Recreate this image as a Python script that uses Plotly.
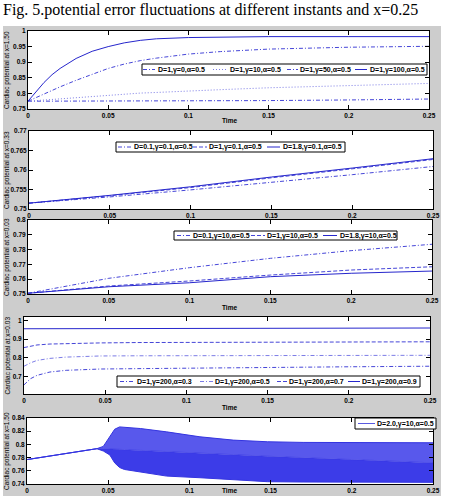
import plotly.graph_objects as go

W, H = 450, 496

# ---------------- data ----------------
t1 = [0, 0.005, 0.01, 0.015, 0.02, 0.03, 0.04, 0.05, 0.06, 0.07, 0.08, 0.10, 0.12, 0.15, 0.20, 0.25]
p1_g0 = [0.775, 0.775, 0.775, 0.775, 0.775, 0.775, 0.775, 0.775, 0.7752, 0.7755, 0.7757, 0.776, 0.7765, 0.777, 0.779, 0.782]
p1_g10 = [0.775, 0.777, 0.779, 0.781, 0.783, 0.787, 0.791, 0.795, 0.798, 0.801, 0.803, 0.808, 0.812, 0.818, 0.826, 0.832]
p1_g50 = [0.775, 0.787, 0.799, 0.810, 0.821, 0.842, 0.862, 0.880, 0.894, 0.905, 0.913, 0.926, 0.934, 0.942, 0.948, 0.951]
p1_g100 = [0.775, 0.805, 0.835, 0.860, 0.880, 0.912, 0.935, 0.950, 0.962, 0.970, 0.975, 0.979, 0.981, 0.982, 0.982, 0.982]
names1 = ["D=1,γ=0,α=0.5", "D=1,γ=10,α=0.5", "D=1,γ=50,α=0.5", "D=1,γ=100,α=0.5"]

t2 = [0, 0.05, 0.10, 0.15, 0.20, 0.25]
p2_d01 = [0.7515, 0.7531, 0.7549, 0.7568, 0.7588, 0.7609]
p2_d1 = [0.7515, 0.7534, 0.7555, 0.7580, 0.7603, 0.7627]
p2_d18 = [0.7515, 0.7535, 0.7557, 0.7582, 0.7605, 0.7629]
names2 = ["D=0.1,γ=0.1,α=0.5", "D=1,γ=0.1,α=0.5", "D=1.8,γ=0.1,α=0.5"]

t3 = [0, 0.05, 0.10, 0.15, 0.20, 0.25]
p3_d01 = [0.7505, 0.7606, 0.7678, 0.7741, 0.7793, 0.7836]
p3_d1 = [0.7505, 0.7554, 0.7588, 0.7628, 0.7662, 0.7684]
p3_d18 = [0.7505, 0.7549, 0.7576, 0.7617, 0.7640, 0.7655]
names3 = ["D=0.1,γ=10,α=0.5", "D=1,γ=10,α=0.5", "D=1.8,γ=10,α=0.5"]

t4 = [0, 0.004, 0.008, 0.016, 0.026, 0.047, 0.07, 0.10, 0.15, 0.20, 0.25]
p4_a03 = [0.654, 0.687, 0.705, 0.723, 0.732, 0.739, 0.741, 0.744, 0.748, 0.751, 0.754]
p4_a05 = [0.754, 0.772, 0.785, 0.796, 0.803, 0.809, 0.810, 0.811, 0.812, 0.8123, 0.8125]
p4_a07 = [0.854, 0.863, 0.868, 0.873, 0.876, 0.879, 0.881, 0.882, 0.884, 0.885, 0.885]
p4_a09 = [0.955, 0.955, 0.955, 0.955, 0.955, 0.955, 0.958, 0.959, 0.959, 0.959, 0.959]
names4 = ["D=1,γ=200,α=0.3", "D=1,γ=200,α=0.5", "D=1,γ=200,α=0.7", "D=1,γ=200,α=0.9"]

t5 = [0, 0.043, 0.047, 0.051, 0.054, 0.057, 0.060, 0.070, 0.086, 0.1065, 0.127, 0.148, 0.170, 0.200, 0.250]
p5_upper = [0.777, 0.7935, 0.797, 0.812, 0.823, 0.8265, 0.826, 0.824, 0.819, 0.8115, 0.8065, 0.804, 0.803, 0.8025, 0.8025]
p5_mid = [0.777, 0.7935, 0.7935, 0.7935, 0.793, 0.7925, 0.792, 0.791, 0.789, 0.7865, 0.7845, 0.782, 0.7795, 0.777, 0.772]
p5_lower = [0.777, 0.7935, 0.790, 0.784, 0.772, 0.765, 0.762, 0.758, 0.752, 0.7495, 0.746, 0.7435, 0.743, 0.7425, 0.7425]
names5 = ["D=2.0,γ=10,α=0.5"]

ylabels = ["Cardiac potential at x=1.50", "Cardiac potential at x=0.33", "Cardiac potential at x=0.03",
           "Cardiac potential at x=0.03", "Cardiac potential at x=1.50"]
xtitle = "Time"
title_text = "Fig. 5.potential error fluctuations at different instants and x=0.25"

# ---------------- styling ----------------
BLUE = "#2626cc"
BLUE2 = "#4646d8"
LIGHT = "#7c7ce6"
DASHDOT = "4px,2px,1px,2px"
DASH = "4px,2px"
DOT = "1px,2px"


def fx(p):
    return p / W


def fy(p):
    return 1 - p / H


fig = go.Figure()

# panel geometry in pixels: (x0, x1, ytop, ybottom)
panels = [(28, 429, 31, 109), (29, 433, 131, 209), (28, 432, 220, 294), (24, 430, 317, 394), (27, 433, 418, 484)]
yranges = [[0.75, 1.0], [0.75, 0.77], [0.75, 0.80], [0.605, 1.018], [0.74, 0.84]]
ydticks = [0.05, 0.005, 0.01, 0.1, 0.02]

# background grey
fig.add_shape(type="rect", xref="paper", yref="paper", x0=fx(3), x1=fx(441), y0=fy(496), y1=fy(26),
              fillcolor="#cdcdcd", line=dict(width=0), layer="below")
for (x0, x1, yt, yb) in panels:
    fig.add_shape(type="rect", xref="paper", yref="paper", x0=fx(x0), x1=fx(x1), y0=fy(yb), y1=fy(yt),
                  fillcolor="white", line=dict(width=0), layer="below")

axfont = dict(size=6.5, family="Liberation Sans", color="black", weight="bold")
for i, (x0, x1, yt, yb) in enumerate(panels):
    sfx = "" if i == 0 else str(i + 1)
    common = dict(showline=True, linecolor="black", linewidth=1, mirror="ticks", ticks="inside",
                  ticklen=4, tickcolor="black", showgrid=False, zeroline=False, tickfont=axfont,
                  automargin=False)
    fig.layout["xaxis" + sfx] = dict(domain=[fx(x0), fx(x1)], range=[0, 0.25], tick0=0, dtick=0.05,
                                     anchor="y" + sfx, **common)
    ykw = dict(domain=[fy(yb), fy(yt)], range=yranges[i], anchor="x" + sfx, **common)
    if i == 3:
        ykw["tickvals"] = [0.7, 0.8, 0.9, 1.0]
        ykw["ticktext"] = ["0.7", "0.8", "0.9", "1"]
    else:
        ykw["dtick"] = ydticks[i]
        ykw["tick0"] = 0
    fig.layout["yaxis" + sfx] = ykw


def line(x, y, name, color, dash, ax):
    fig.add_trace(go.Scatter(x=x, y=y, name=name, mode="lines", xaxis="x" + ax, yaxis="y" + ax,
                             line=dict(color=color, width=1, dash=dash), showlegend=False))


# panel 1
styles1 = [(BLUE2, DASHDOT), (LIGHT, DOT), (BLUE2, DASHDOT), (BLUE, "solid")]
for ys, nm, st in zip([p1_g0, p1_g10, p1_g50, p1_g100], names1, styles1):
    line(t1, ys, nm, st[0], st[1], "")
# panel 2
styles2 = [(BLUE2, DASHDOT), (BLUE2, DASH), (BLUE, "solid")]
for ys, nm, st in zip([p2_d01, p2_d1, p2_d18], names2, styles2):
    line(t2, ys, nm, st[0], st[1], "2")
# panel 3
styles3 = [(BLUE2, DASHDOT), (BLUE2, DASH), (BLUE, "solid")]
for ys, nm, st in zip([p3_d01, p3_d1, p3_d18], names3, styles3):
    line(t3, ys, nm, st[0], st[1], "3")
# panel 4
styles4 = [(BLUE2, DASHDOT), (LIGHT, DASHDOT), (BLUE2, DASH), (BLUE, "solid")]
for ys, nm, st in zip([p4_a03, p4_a05, p4_a07, p4_a09], names4, styles4):
    line(t4, ys, nm, st[0], st[1], "4")
# panel 5: oscillation band
fig.add_trace(go.Scatter(x=t5, y=p5_lower, mode="lines", xaxis="x5", yaxis="y5", showlegend=False,
                         line=dict(color="#3434e0", width=1), name=names5[0]))
fig.add_trace(go.Scatter(x=t5, y=p5_mid, mode="lines", xaxis="x5", yaxis="y5", showlegend=False,
                         line=dict(color="#3434e0", width=0.6), fill="tonexty", fillcolor="#3c3ce8",
                         name=names5[0]))
fig.add_trace(go.Scatter(x=t5, y=p5_upper, mode="lines", xaxis="x5", yaxis="y5", showlegend=False,
                         line=dict(color="#3434e0", width=1), fill="tonexty", fillcolor="#5858ec",
                         name=names5[0]))
styles5 = [("#5a5ae0", "solid")]

# ---------------- manual legends ----------------
legfont = dict(size=7, family="Liberation Sans", color="black", weight="bold")


def add_legend(box, entries, names, styles):
    x0, x1, y0, y1 = box
    fig.add_shape(type="rect", xref="paper", yref="paper", x0=fx(x0), x1=fx(x1), y0=fy(y1), y1=fy(y0),
                  fillcolor="white", line=dict(color="black", width=1), layer="above")
    yc = (y0 + y1) / 2
    for (lx0, lx1, tx), nm, (col, dsh) in zip(entries, names, styles):
        fig.add_shape(type="line", xref="paper", yref="paper", x0=fx(lx0), x1=fx(lx1), y0=fy(yc), y1=fy(yc),
                      line=dict(color=col, width=1, dash=dsh), layer="above")
        fig.add_annotation(x=fx(tx), y=fy(yc), xref="paper", yref="paper", text=nm, showarrow=False,
                           xanchor="left", yanchor="middle", font=legfont, borderpad=0)


add_legend((142, 427, 64, 75), [(143, 155, 157), (213, 227, 229), (287, 298, 299), (355, 367, 369)], names1, styles1)
add_legend((116, 345, 142, 152), [(118, 132, 133), (193, 207, 208), (267, 280, 282)], names2, styles2)
add_legend((174, 397, 231, 240), [(177, 190, 192), (251, 265, 266), (323, 337, 339)], names3, styles3)
add_legend((117, 420, 376, 387), [(120, 135, 136), (200, 213, 214), (277, 287, 288), (348, 360, 361)], names4, styles4)
add_legend((355, 436, 418, 429), [(358, 375, 376)], names5, styles5)

# ---------------- axis titles ----------------
ttlfont = dict(size=6.5, family="Liberation Sans", color="black")
for i, (x0, x1, yt, yb) in enumerate(panels):
    fig.add_annotation(x=fx(7), y=fy((yt + yb) / 2), xref="paper", yref="paper", text=ylabels[i],
                       textangle=-90, showarrow=False, font=ttlfont, xanchor="center", yanchor="middle")
for ypx in [120, 307, 407, 490]:
    fig.add_annotation(x=fx(230), y=fy(ypx), xref="paper", yref="paper", text=xtitle, showarrow=False,
                       font=dict(size=6.5, family="Liberation Sans", color="black", weight="bold"),
                       xanchor="center", yanchor="middle")

# title
fig.add_annotation(x=fx(1), y=fy(10.5), xref="paper", yref="paper", text=title_text, showarrow=False,
                   xanchor="left", yanchor="middle",
                   font=dict(size=16, family="Liberation Serif", color="black"))

fig.update_layout(width=W, height=H, margin=dict(l=0, r=0, t=0, b=0), paper_bgcolor="white",
                  plot_bgcolor="rgba(0,0,0,0)", showlegend=False)

fig.write_html("out.html")
